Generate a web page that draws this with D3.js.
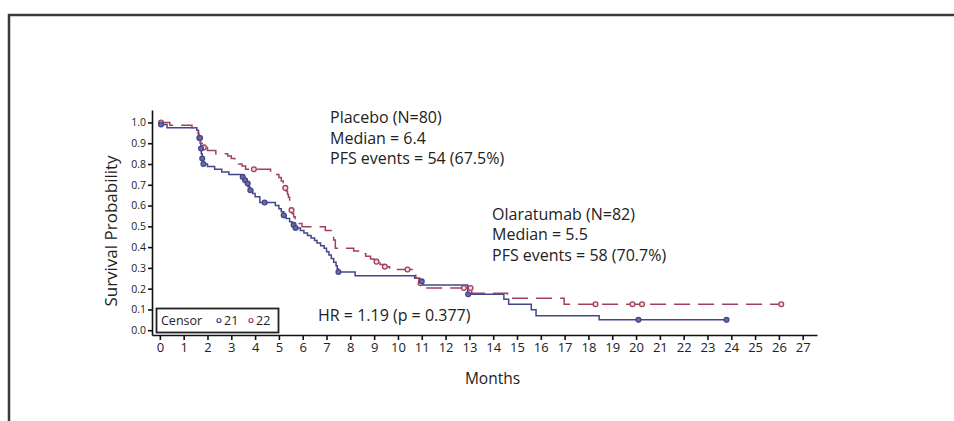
<!DOCTYPE html>
<html>
<head>
<meta charset="utf-8">
<script src="https://cdn.jsdelivr.net/npm/d3@7"></script>
<style>
  html, body { margin: 0; padding: 0; background: #fff; }
  svg { display: block; font-family: "Open Sans", "Noto Sans", sans-serif; }
</style>
</head>
<body>
<svg id="chart" width="954" height="421"></svg>
<script>
// Olaratumab (arm 21): step points [time, survival from that time on]
var blueTimes = [0, 0.3, 1.55, 1.62, 1.66, 1.7, 1.72, 1.74, 1.78, 1.82, 2.0, 2.3, 2.6, 2.9, 3.4, 3.55, 3.62, 3.7, 3.78, 3.9, 4.0, 4.2, 4.85, 5.0, 5.1, 5.2, 5.3, 5.45, 5.55, 5.65, 5.9, 6.05, 6.2, 6.35, 6.5, 6.6, 6.75, 6.9, 7.0, 7.1, 7.2, 7.3, 7.4, 7.45, 7.5, 8.2, 10.7, 10.92, 11.05, 12.93, 14.45, 14.65, 15.6, 15.8, 18.45, 23.8];
var blueSurv = [0.99, 0.975, 0.963, 0.94, 0.925, 0.9, 0.875, 0.85, 0.826, 0.8, 0.788, 0.775, 0.762, 0.75, 0.738, 0.722, 0.706, 0.69, 0.674, 0.658, 0.642, 0.615, 0.6, 0.585, 0.57, 0.553, 0.538, 0.522, 0.507, 0.492, 0.48, 0.468, 0.456, 0.444, 0.432, 0.42, 0.407, 0.394, 0.378, 0.362, 0.345, 0.327, 0.31, 0.295, 0.28, 0.262, 0.25, 0.235, 0.218, 0.173, 0.149, 0.125, 0.098, 0.07, 0.05, 0.05];
var blueCensor = [0.05, 1.66, 1.69, 1.73, 1.78, 1.83, 3.48, 3.58, 3.69, 3.8, 4.4, 5.2, 5.62, 5.7, 7.5, 11.0, 12.95, 20.1, 23.8];

// Placebo (arm 22)
var redTimes = [0, 0.42, 1.35, 1.58, 1.63, 1.7, 1.78, 2.0, 2.35, 2.85, 3.0, 3.15, 3.3, 3.45, 3.6, 4.65, 4.85, 5.0, 5.1, 5.18, 5.24, 5.3, 5.36, 5.4, 5.45, 5.48, 5.52, 5.55, 5.62, 5.68, 5.85, 5.97, 6.95, 7.23, 7.3, 7.37, 8.14, 8.5, 8.65, 8.85, 9.0, 9.25, 9.4, 9.65, 10.75, 10.88, 11.0, 13.1, 14.6, 16.98, 26.1];
var redSurv = [1.0, 0.987, 0.975, 0.95, 0.925, 0.9, 0.88, 0.865, 0.85, 0.838, 0.826, 0.814, 0.8, 0.79, 0.775, 0.762, 0.75, 0.735, 0.718, 0.7, 0.685, 0.67, 0.655, 0.64, 0.61, 0.594, 0.578, 0.562, 0.546, 0.53, 0.514, 0.498, 0.48, 0.456, 0.434, 0.394, 0.381, 0.368, 0.356, 0.343, 0.33, 0.316, 0.306, 0.292, 0.25, 0.226, 0.203, 0.178, 0.154, 0.125, 0.125];
var redCensor = [0.05, 1.85, 3.95, 5.27, 5.53, 9.1, 9.45, 10.4, 10.95, 12.77, 13.05, 18.3, 19.85, 20.25, 26.1];

var xTicks = d3.range(0, 28);
var yTicks = d3.range(0, 11).map(function (i) { return i / 10; });

var placeboText = ["Placebo (N=80)", "Median = 6.4", "PFS events = 54 (67.5%)"];
var olaText = ["Olaratumab (N=82)", "Median = 5.5", "PFS events = 58 (70.7%)"];
var hrText = "HR = 1.19 (p = 0.377)";

var blueColor = "#44468c";
var redColor = "#a3405c";

var svg = d3.select("#chart");

// frame of the panel
svg.append("path")
    .attr("d", "M9,421V15H954")
    .attr("fill", "none")
    .attr("stroke", "#3a3a3a")
    .attr("stroke-width", 2.5);

var x = d3.scaleLinear().domain([-0.33, 27.6]).range([152, 817]);
var y = d3.scaleLinear().domain([-0.023, 1.06]).range([335, 110]);

var xAxis = d3.axisBottom(x).tickValues(xTicks).tickSize(5).tickPadding(3).tickSizeOuter(0);
var yAxis = d3.axisLeft(y).tickValues(yTicks).tickSize(4).tickPadding(2).tickSizeOuter(0).tickFormat(d3.format(".1f"));

var gx = svg.append("g").attr("transform", "translate(0," + y.range()[0] + ")").call(xAxis);
gx.selectAll("text").attr("font-size", 13).attr("font-family", "Open Sans").attr("fill", "#222");
var gy = svg.append("g").attr("transform", "translate(" + x.range()[0] + ",0)").call(yAxis);
gy.selectAll("text").attr("font-size", 10.5).attr("font-family", "Open Sans").attr("fill", "#222");
svg.selectAll(".domain, .tick line").attr("stroke", "#111").attr("stroke-width", 1.6);

function stepData(times, surv) {
  return times.map(function (t, i) { return [t, surv[i]]; });
}
function survAt(times, surv, t) {
  var i = d3.bisectRight(times, t) - 1;
  return surv[Math.max(0, i)];
}

var line = d3.line()
    .x(function (d) { return x(d[0]); })
    .y(function (d) { return y(d[1]); })
    .curve(d3.curveStepAfter);

svg.append("path")
    .datum(stepData(blueTimes, blueSurv))
    .attr("fill", "none")
    .attr("stroke", blueColor)
    .attr("stroke-width", 1.5)
    .attr("d", line);

svg.append("path")
    .datum(stepData(redTimes, redSurv))
    .attr("fill", "none")
    .attr("stroke", redColor)
    .attr("stroke-width", 1.5)
    .attr("stroke-dasharray", "16,8")
    .attr("d", line);

function censorMarks(times, ts, ss, color, fill) {
  svg.append("g").selectAll("circle")
      .data(times)
      .join("circle")
      .attr("cx", function (t) { return x(t); })
      .attr("cy", function (t) { return y(survAt(ts, ss, t)); })
      .attr("r", 2.4)
      .attr("fill", fill)
      .attr("stroke", color)
      .attr("stroke-width", 1.3);
}
censorMarks(redCensor, redTimes, redSurv, redColor, "#f3dde3");
censorMarks(blueCensor, blueTimes, blueSurv, blueColor, "#6a6ca8");

// annotations
function block(lines, x0, y0) {
  svg.append("g").selectAll("text")
      .data(lines)
      .join("text")
      .attr("x", x0)
      .attr("y", function (d, i) { return y0 + i * 20.5; })
      .attr("font-size", 16)
      .attr("fill", "#222")
      .text(function (d) { return d; });
}
block(placeboText, 330, 123);
block(olaText, 492, 219.5);
svg.append("text")
    .attr("x", 318).attr("y", 321)
    .attr("font-size", 16).attr("fill", "#222")
    .text(hrText);

// legend
var lg = svg.append("g");
lg.append("rect")
    .attr("x", 156.5).attr("y", 308.5).attr("width", 122).attr("height", 24)
    .attr("fill", "#fff").attr("stroke", "#222").attr("stroke-width", 1.8);
lg.append("text").attr("x", 161).attr("y", 325).attr("font-size", 12.5).attr("fill", "#222").text("Censor");
lg.append("circle").attr("cx", 219).attr("cy", 320.5).attr("r", 2).attr("fill", "none").attr("stroke", blueColor).attr("stroke-width", 1.2);
lg.append("text").attr("x", 224).attr("y", 325).attr("font-size", 12.5).attr("fill", "#222").text("21");
lg.append("circle").attr("cx", 251).attr("cy", 320.5).attr("r", 2).attr("fill", "none").attr("stroke", redColor).attr("stroke-width", 1.2);
lg.append("text").attr("x", 256).attr("y", 325).attr("font-size", 12.5).attr("fill", "#222").text("22");

// axis titles
svg.append("text")
    .attr("x", (x.range()[0] + x.range()[1]) / 2 + 8).attr("y", 384)
    .attr("text-anchor", "middle").attr("font-size", 15.5).attr("fill", "#222")
    .text("Months");
svg.append("text")
    .attr("transform", "translate(117,231) rotate(-90)")
    .attr("text-anchor", "middle").attr("font-size", 17).attr("fill", "#222")
    .text("Survival Probability");
</script>
</body>
</html>
